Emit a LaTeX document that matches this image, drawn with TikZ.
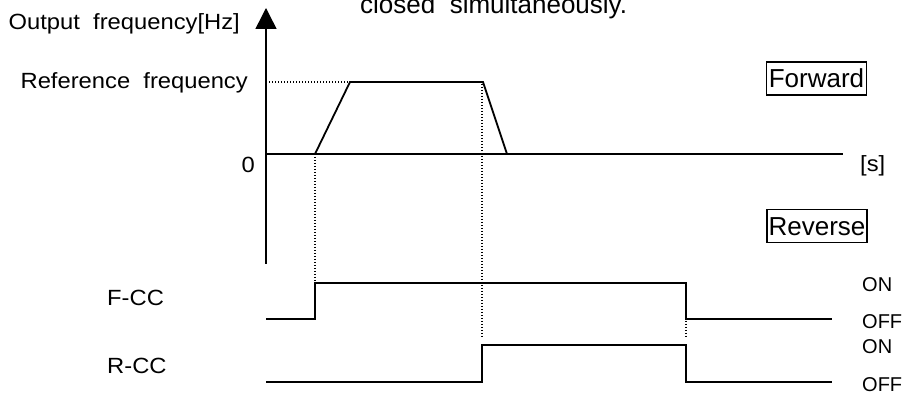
\documentclass[tikz,border=0pt]{standalone}
\usepackage{fontspec}
\setmainfont{Liberation Sans}
\newfontfamily\lbl[FakeStretch=1.08]{Liberation Sans}
\usetikzlibrary{arrows.meta}
\begin{document}
\begin{tikzpicture}[x=1pt,y=-1pt,
  sig/.style={line width=1.8pt, line join=miter},
  axisline/.style={line width=1.5pt},
  dotline/.style={line width=1.1pt, dash pattern=on 1.1pt off 1.9pt},
  lab/.style={font=\lbl\fontsize{22}{26}\selectfont, inner sep=0pt},
  big/.style={font=\fontsize{26}{30}\selectfont, inner sep=0pt},
  small/.style={font=\fontsize{20}{24}\selectfont, inner sep=0pt},
  tag/.style={draw, line width=1.6pt, big, minimum width=100pt, minimum height=33pt, text height=18.6pt, text depth=0pt}]
\useasboundingbox (0,0) rectangle (905,395);

% axes
\coordinate (ybot) at (266,264);
\coordinate (ytop) at (266,8);
\draw[axisline, -{Triangle[width=21pt,length=21pt]}] (ybot) -- (ytop);
\coordinate (z0) at (266,154);
\coordinate (zend) at (843,154);
\draw[sig] (z0) -- (zend);

% frequency profile
\coordinate (a0) at (315,154);
\coordinate (a1) at (350,82);
\coordinate (a2) at (483,82);
\coordinate (a3) at (507,154);
\draw[sig] (a0) -- (a1) -- (a2) -- (a3);

% dotted guides
\draw[dotline] (266,82) -- (a1);
\draw[dotline] (a0) -- (315,282);
\draw[dotline] (482,84) -- (482,338);
\draw[dotline] (686,321) -- (686,338);

% F-CC
\draw[sig] (266,319) -- (315,319) -- (315,283) -- (686,283) -- (686,319) -- (832,319);
% R-CC
\draw[sig] (266,382) -- (482,382) -- (482,345) -- (686,345) -- (686,382) -- (832,382);

% labels
\node[lab, anchor=base east] (ylab) at (240,30) {Output\ \ frequency[Hz]};
\node[big, anchor=base west] (note) at (360,14) {closed\ \ simultaneously.};
\node[lab, anchor=base east] (ref) at (248,89) {Reference\ \ frequency};
\node[lab, anchor=base east] (zero) at (255,173) {0};
\node[lab, anchor=base west] (sec) at (860,172) {[s]};
\node[tag] (fwd) at (816.5,78.5) {Forward};
\node[tag] (rev) at (817,226) {Reverse};
\node[lab, anchor=base west] (fcc) at (107,306) {F-CC};
\node[lab, anchor=base west] (rcc) at (107,373) {R-CC};
\node[small, anchor=base west] (on1) at (862,292) {ON};
\node[small, anchor=base west] (off1) at (862,328) {OFF};
\node[small, anchor=base west] (on2) at (862,353) {ON};
\node[small, anchor=base west] (off2) at (862,391) {OFF};
\end{tikzpicture}
\end{document}
